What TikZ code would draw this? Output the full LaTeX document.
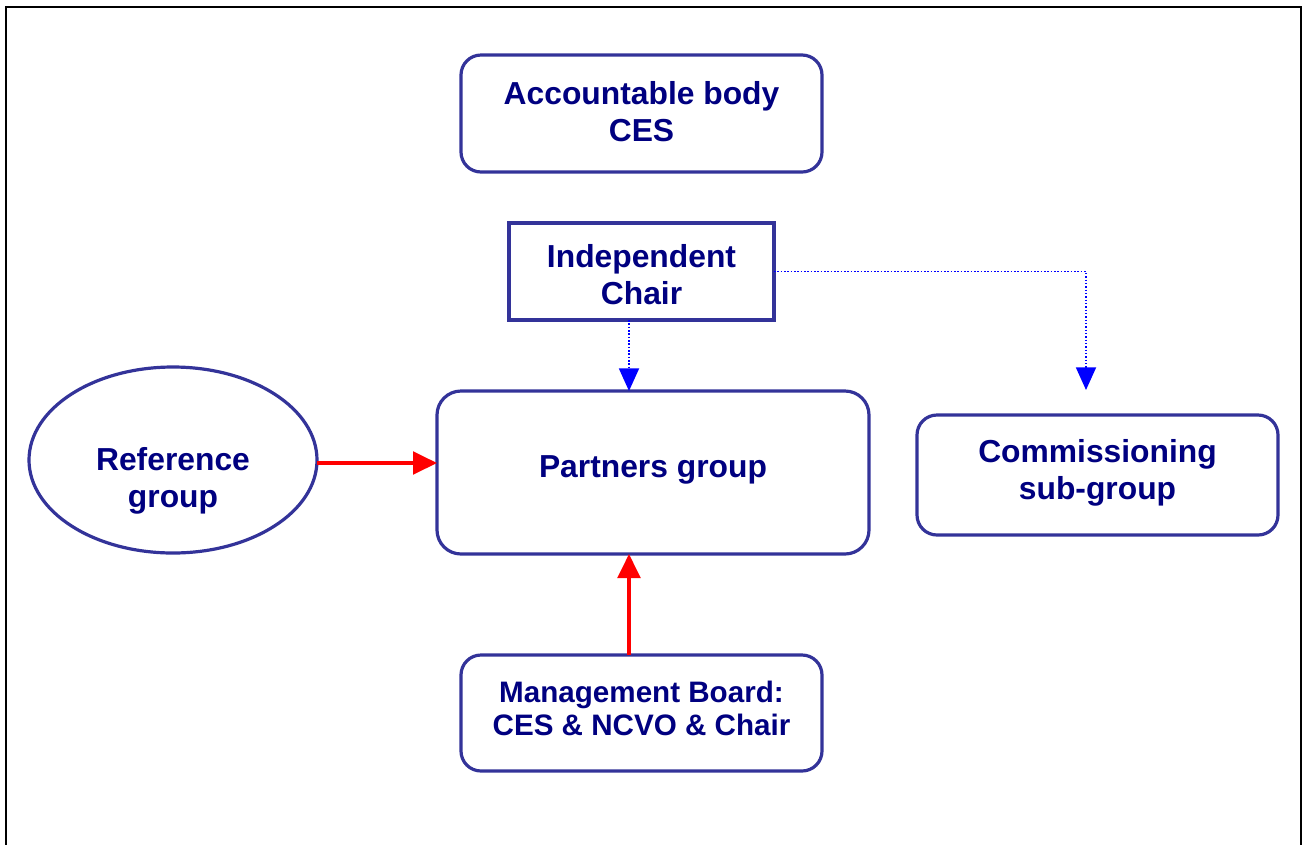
\documentclass[tikz,border=0pt]{standalone}
\usepackage{fontspec}
\setmainfont{Liberation Sans}
\usetikzlibrary{arrows.meta,shapes.geometric}
\definecolor{boxline}{HTML}{333399}
\definecolor{navytext}{HTML}{000080}
\definecolor{linkblue}{HTML}{0000FF}
\definecolor{linkred}{HTML}{FF0000}
\def\pxu{0.75pt}
\begin{document}
\begin{tikzpicture}[x=0.75pt,y=-0.75pt,
  shapebox/.style={draw=boxline,line width=2.4pt,fill=white,inner sep=0pt,outer sep=0pt},
  roundbox/.style={shapebox,rectangle,rounded corners=15pt},
  label/.style={text=navytext,font=\bfseries\fontsize{23.85}{27.75}\selectfont,align=center,inner sep=0pt},
  smalllabel/.style={label,font=\bfseries\fontsize{22.2}{24.75}\selectfont},
  dotlink/.style={linkblue,line width=1.4pt,dash pattern=on 1.2pt off 1.3pt,
    -{Triangle[length=17pt,width=15pt]}},
  redlink/.style={linkred,line width=2.4pt,-{Triangle[length=18pt,width=17pt]}}]
\useasboundingbox (0,0) rectangle (1303,844);
\clip (0,0) rectangle (1303,844);
% page frame (open at the bottom edge)
\draw[line width=1.6pt] (6,900) -- (6,7) -- (1301,7) -- (1301,900);

% boxes
\node[roundbox,minimum width=361*\pxu,minimum height=117*\pxu] (acc) at (641.5,113.5) {};
\node[shapebox,rectangle,minimum width=265*\pxu,minimum height=97*\pxu] (chair) at (641.5,271.5) {};
\node[roundbox,rounded corners=18pt,minimum width=432*\pxu,minimum height=163*\pxu] (pg) at (653,472.5) {};
\node[shapebox,ellipse,minimum width=288*\pxu,minimum height=186*\pxu] (ref) at (173,460) {};
\node[roundbox,minimum width=361*\pxu,minimum height=120*\pxu] (comm) at (1097.5,475) {};
\node[roundbox,minimum width=361*\pxu,minimum height=116*\pxu] (mb) at (641.5,713) {};

% texts
\node[label] (acc-t) at (641.5,112) {Accountable body\\CES};
\node[label] (chair-t) at (641.5,275) {Independent\\Chair};
\node[label] (pg-t) at (653,470) {Partners group};
\node[label] (ref-t) at (173,481) {Reference\\group};
\node[label] (comm-t) at (1097.5,473) {Commissioning\\sub-group};
\node[smalllabel] (mb-t) at (641.5,708) {Management Board:\\CES \& NCVO \& Chair};

% connectors
\coordinate (xline) at (629,0);
\coordinate (yline) at (0,463);
\coordinate (commtip) at (1086,390);
\draw[dotlink] (xline |- chair.south) -- (xline |- pg.north);
\draw[dotlink] (chair.east) -| (commtip);
\draw[redlink] (ref.east |- yline) -- (pg.west |- yline);
\draw[redlink] (xline |- mb.north) -- (xline |- pg.south);
\end{tikzpicture}
\end{document}
